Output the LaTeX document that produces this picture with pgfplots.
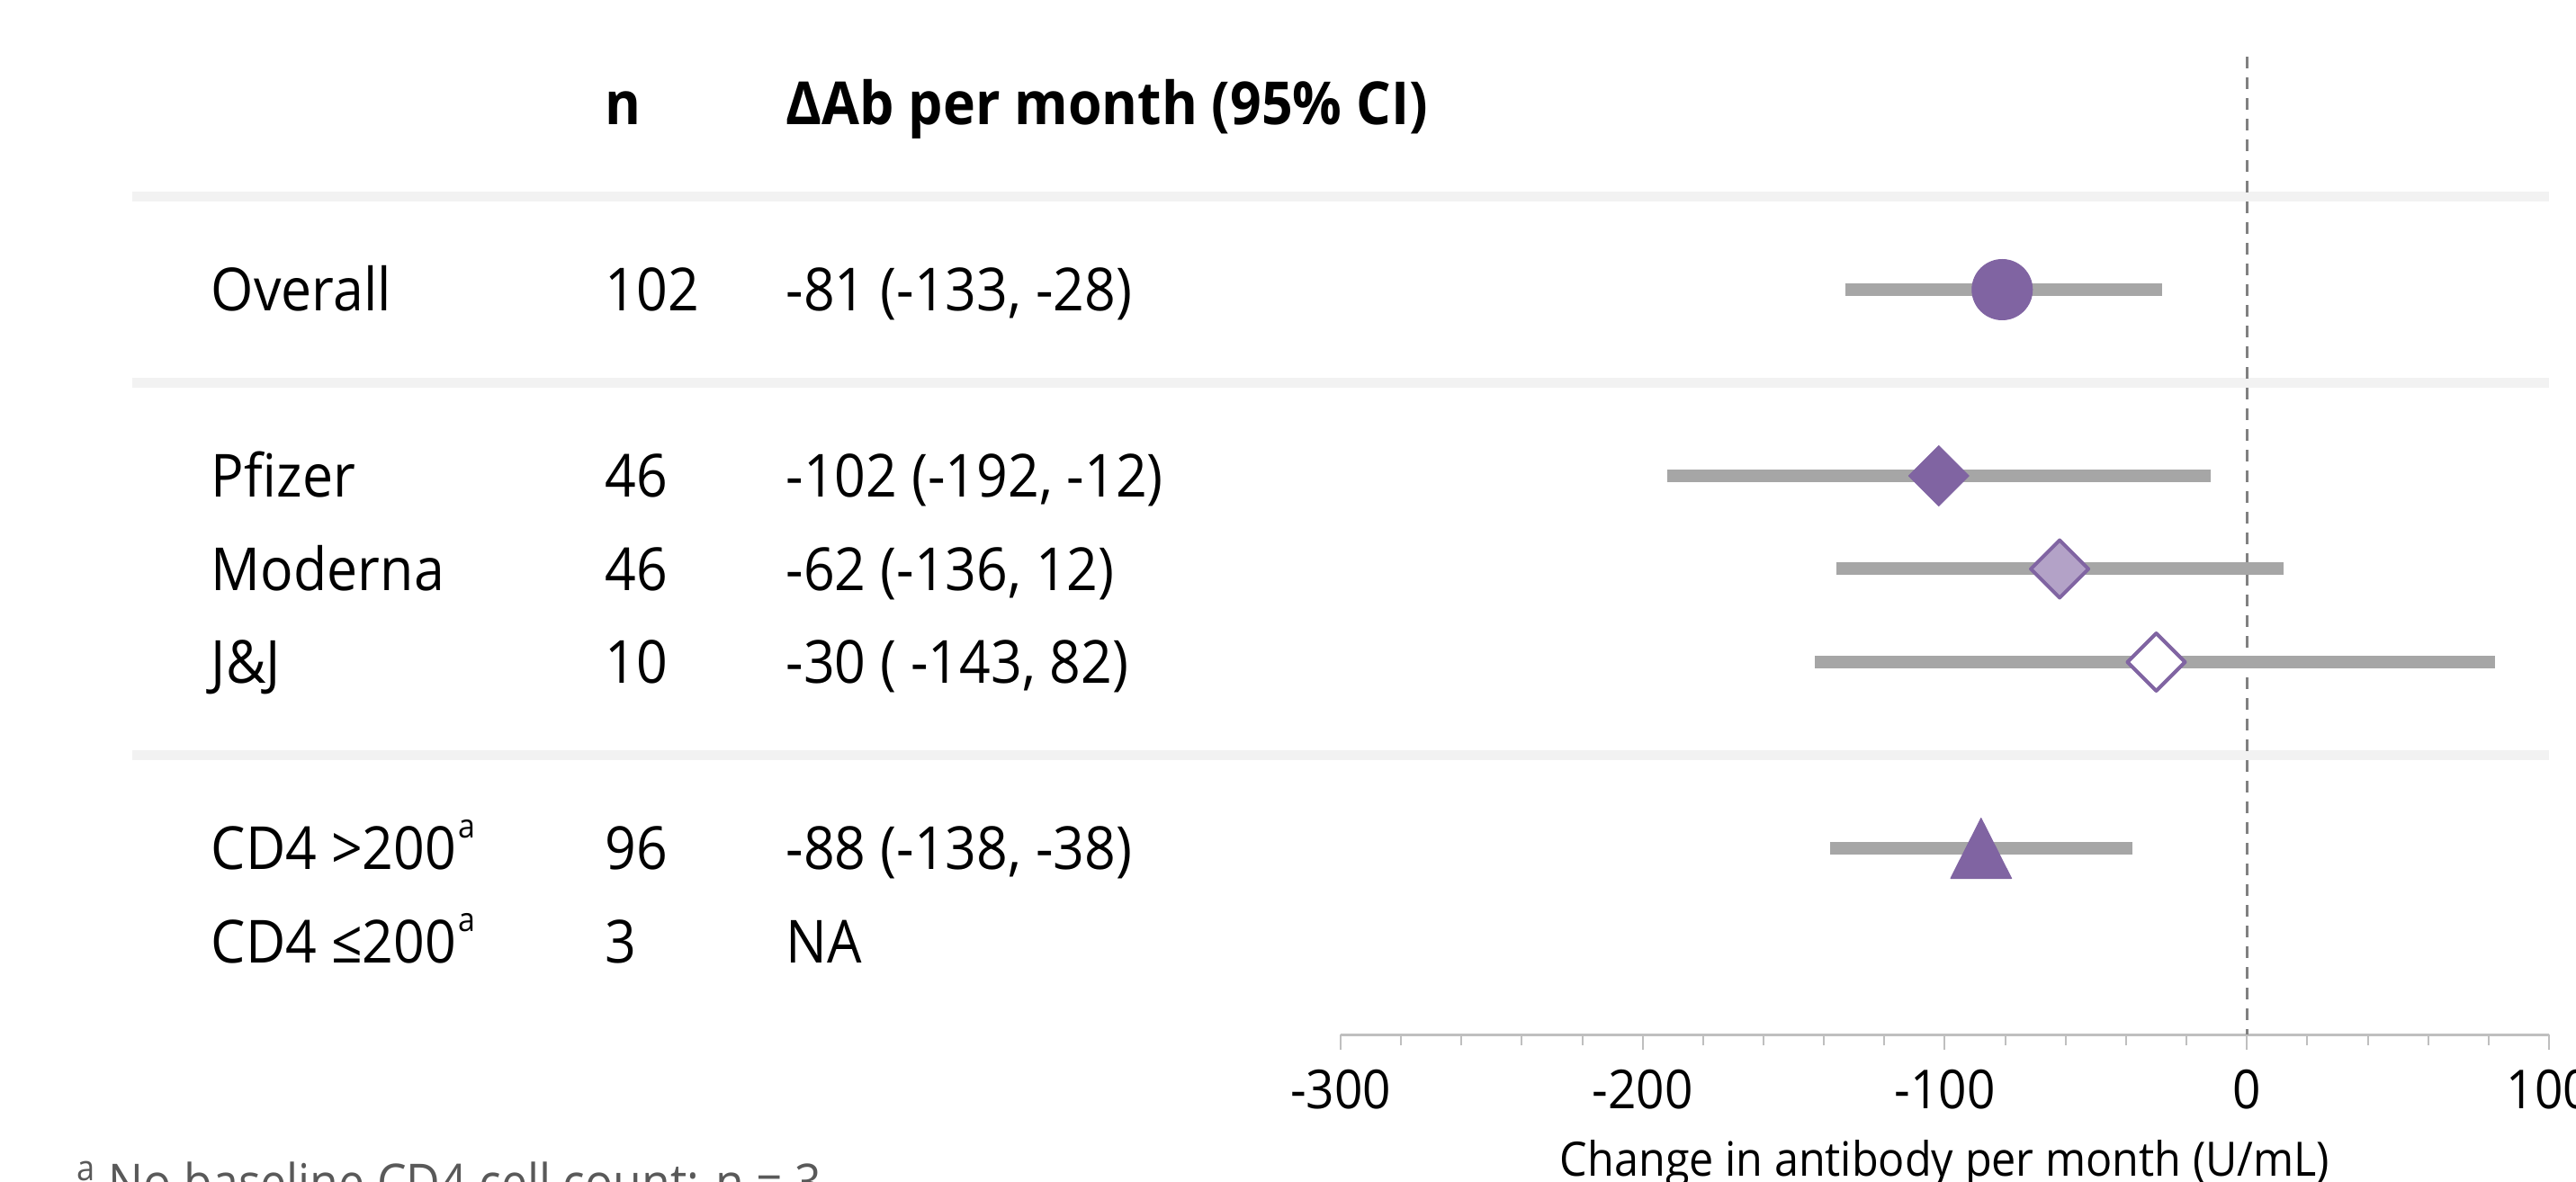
\documentclass[border=0pt]{standalone}
\usepackage{pgfplots}
\pgfplotsset{compat=1.18}
\usepackage{fontspec}
\setmainfont{Open Sans}[FakeStretch=0.92]
\definecolor{purp}{HTML}{8064A2}
\definecolor{lpurp}{HTML}{B3A2C7}
\definecolor{cigray}{HTML}{A6A6A6}
\definecolor{sepgray}{HTML}{F2F2F2}
\definecolor{dashgray}{HTML}{808080}
\definecolor{axgray}{HTML}{BFBFBF}
\definecolor{footgray}{HTML}{595959}

\pgfdeclareplotmark{dmd}{%
  \pgfpathmoveto{\pgfqpoint{0pt}{\pgfplotmarksize}}%
  \pgfpathlineto{\pgfqpoint{\pgfplotmarksize}{0pt}}%
  \pgfpathlineto{\pgfqpoint{0pt}{-\pgfplotmarksize}}%
  \pgfpathlineto{\pgfqpoint{-\pgfplotmarksize}{0pt}}%
  \pgfpathclose
  \pgfusepathqfillstroke}
\pgfdeclareplotmark{tri}{%
  \pgfpathmoveto{\pgfqpoint{0pt}{\pgfplotmarksize}}%
  \pgfpathlineto{\pgfqpoint{1.01\pgfplotmarksize}{-\pgfplotmarksize}}%
  \pgfpathlineto{\pgfqpoint{-1.01\pgfplotmarksize}{-\pgfplotmarksize}}%
  \pgfpathclose
  \pgfusepathqfillstroke}

\newcommand\bodyfont{\fontsize{18.8pt}{22pt}\selectfont}
\newcommand\tickfont{\fontsize{17pt}{20pt}\selectfont}
\newcommand\supa{\hspace{0.02cm}\raisebox{0.35cm}{\fontsize{10.5pt}{11pt}\selectfont a}}

\begin{document}
\begin{tikzpicture}
\begin{axis}[
  at={(0,0)}, anchor=south west, scale only axis,
  width=13.43cm, height=10.8675cm,
  xmin=-300, xmax=100, ymin=-10, ymax=0.5,
  clip=false,
  axis x line=bottom, axis y line=none,
  x axis line style={-, color=axgray, line width=0.03cm},
  xtick={-300,-200,-100,0,100},
  xticklabels={-300,-200,-100,0,100},
  minor x tick num=4,
  tick align=outside,
  major tick length=0.17cm, minor tick length=0.12cm,
  tick style={color=axgray, line width=0.02cm},
  xticklabel style={font=\tickfont, text=black, yshift=-0.1cm},
  xlabel={Change in antibody per month (U/mL)},
  xlabel style={font=\fontsize{15pt}{18pt}\selectfont, text=black, yshift=-0.1cm},
]
% separators
\addplot[sepgray, line width=0.115cm, mark=none] coordinates {(-700,-1) (100,-1)};
\addplot[sepgray, line width=0.115cm, mark=none] coordinates {(-700,-3) (100,-3)};
\addplot[sepgray, line width=0.115cm, mark=none] coordinates {(-700,-7) (100,-7)};
% reference line at zero
\addplot[dashgray, line width=0.033cm, dash pattern=on 0.13cm off 0.10cm, mark=none] coordinates {(0,0.5) (0,-10)};
% confidence intervals
\addplot[cigray, line width=0.14cm, mark=none] coordinates {(-133,-2) (-28,-2)};
\addplot[cigray, line width=0.14cm, mark=none] coordinates {(-192,-4) (-12,-4)};
\addplot[cigray, line width=0.14cm, mark=none] coordinates {(-136,-5) (12,-5)};
\addplot[cigray, line width=0.14cm, mark=none] coordinates {(-143,-6) (82,-6)};
\addplot[cigray, line width=0.14cm, mark=none] coordinates {(-138,-8) (-38,-8)};
% point estimates
\addplot[only marks, mark=*, mark size=0.335cm, mark options={draw=purp, fill=purp, line width=0.01cm}] coordinates {(-81,-2)};
\addplot[only marks, mark=dmd, mark size=0.335cm, mark options={draw=purp, fill=purp, line width=0.01cm, line join=round}] coordinates {(-102,-4)};
\addplot[only marks, mark=dmd, mark size=0.32cm, mark options={draw=purp, fill=lpurp, line width=0.04cm, line join=round}] coordinates {(-62,-5)};
\addplot[only marks, mark=dmd, mark size=0.32cm, mark options={draw=purp, fill=white, line width=0.04cm, line join=round}] coordinates {(-30,-6)};
\addplot[only marks, mark=tri, mark size=0.335cm, mark options={draw=purp, fill=purp, line width=0.01cm, line join=round}] coordinates {(-88,-8)};

% table text
\begin{scope}[every node/.style={anchor=base west, inner sep=0pt, font=\bodyfont}]
\node[font=\bodyfont\bfseries] at (axis cs:-543.6,-0.229) {n};
\node[font=\bodyfont\bfseries] at (axis cs:-483.8,-0.229) {ΔAb per month (95\% CI)};

\node at (axis cs:-674,-2.229) {Overall};
\node at (axis cs:-543.6,-2.229) {102};
\node at (axis cs:-483.8,-2.229) {-81 (-133, -28)};

\node at (axis cs:-674,-4.229) {Pfizer};
\node at (axis cs:-543.6,-4.229) {46};
\node at (axis cs:-483.8,-4.229) {-102 (-192, -12)};

\node at (axis cs:-674,-5.229) {Moderna};
\node at (axis cs:-543.6,-5.229) {46};
\node at (axis cs:-483.8,-5.229) {-62 (-136, 12)};

\node at (axis cs:-674,-6.229) {J\&J};
\node at (axis cs:-543.6,-6.229) {10};
\node at (axis cs:-483.8,-6.229) {-30 ( -143, 82)};

\node at (axis cs:-674,-8.229) {CD4 >200\supa};
\node at (axis cs:-543.6,-8.229) {96};
\node at (axis cs:-483.8,-8.229) {-88 (-138, -38)};

\node at (axis cs:-674,-9.229) {CD4 ≤200\supa};
\node at (axis cs:-543.6,-9.229) {3};
\node at (axis cs:-483.8,-9.229) {NA};

\node[font=\fontsize{16pt}{19pt}\selectfont, text=footgray] at (axis cs:-718.5,-11.78) {\textsuperscript{a} No baseline CD4 cell count: n = 3};
\end{scope}
\end{axis}
\pgfresetboundingbox
\useasboundingbox (-14.90cm,-1.63cm) rectangle (13.73cm,11.50cm);
\end{tikzpicture}
\end{document}
